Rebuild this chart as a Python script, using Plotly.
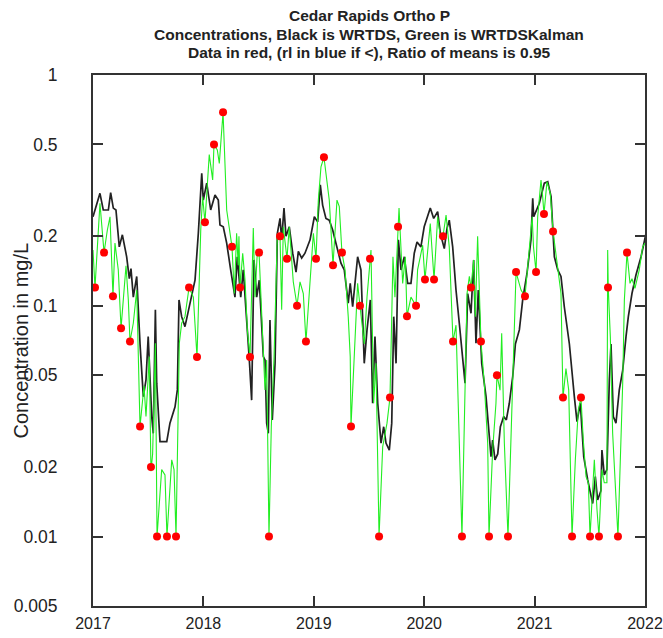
import plotly.graph_objects as go

# ---- WRTDS (black) daily concentration ----
wrtds_year = [2017.00, 2017.063, 2017.093, 2017.139, 2017.16, 2017.184, 2017.208, 2017.238, 2017.266, 2017.29,
              2017.305, 2017.329, 2017.344, 2017.365, 2017.396, 2017.426, 2017.456, 2017.48, 2017.50, 2017.532,
              2017.546, 2017.565, 2017.577, 2017.607, 2017.668, 2017.697, 2017.743, 2017.764, 2017.779, 2017.803,
              2017.833, 2017.879, 2017.924, 2017.954, 2017.985, 2017.999, 2018.03, 2018.066, 2018.105, 2018.135,
              2018.15, 2018.18, 2018.211, 2018.247, 2018.286, 2018.307, 2018.338, 2018.361, 2018.392, 2018.416,
              2018.437, 2018.458, 2018.483, 2018.506, 2018.543, 2018.558, 2018.573, 2018.588, 2018.603, 2018.624,
              2018.649, 2018.67, 2018.694, 2018.709, 2018.73, 2018.748, 2018.778, 2018.809, 2018.839, 2018.86,
              2018.89, 2018.92, 2018.966, 2019.005, 2019.035, 2019.059, 2019.08, 2019.11, 2019.14, 2019.171,
              2019.20, 2019.246, 2019.276, 2019.312, 2019.33, 2019.352, 2019.373, 2019.397, 2019.427, 2019.457,
              2019.482, 2019.512, 2019.533, 2019.554, 2019.579, 2019.609, 2019.633, 2019.654, 2019.684, 2019.706,
              2019.724, 2019.745, 2019.766, 2019.79, 2019.82, 2019.85, 2019.88, 2019.91, 2019.935, 2019.97,
              2020.0, 2020.055, 2020.086, 2020.122, 2020.146, 2020.182, 2020.207, 2020.227, 2020.258, 2020.288,
              2020.318, 2020.349, 2020.37, 2020.394, 2020.424, 2020.448, 2020.469, 2020.49, 2020.521, 2020.56,
              2020.59, 2020.605, 2020.62, 2020.641, 2020.666, 2020.69, 2020.72, 2020.744, 2020.771, 2020.802,
              2020.826, 2020.862, 2020.892, 2020.931, 2020.967, 2020.983, 2020.992, 2021.043, 2021.088, 2021.119,
              2021.149, 2021.179, 2021.21, 2021.239, 2021.269, 2021.315, 2021.36, 2021.384, 2021.414, 2021.445,
              2021.481, 2021.526, 2021.55, 2021.571, 2021.601, 2021.61, 2021.631, 2021.655, 2021.677, 2021.692,
              2021.713, 2021.737, 2021.767, 2021.798, 2021.828, 2021.849, 2021.882, 2021.918, 2021.964, 2022.009]
wrtds_conc = [0.243, 0.307, 0.26, 0.26, 0.309, 0.265, 0.26, 0.18, 0.203, 0.1745,
              0.163, 0.131, 0.145, 0.109, 0.134, 0.0683, 0.0404, 0.0477, 0.0735, 0.0331,
              0.028, 0.096, 0.0462, 0.0258, 0.0258, 0.031, 0.0365, 0.0432, 0.106, 0.0897,
              0.0812, 0.1026, 0.129, 0.206, 0.375, 0.287, 0.34, 0.26, 0.302, 0.287,
              0.224, 0.22, 0.187, 0.143, 0.109, 0.163, 0.109, 0.143, 0.0897, 0.0582,
              0.039, 0.158, 0.109, 0.129, 0.0602, 0.0582, 0.031, 0.028, 0.0868, 0.032,
              0.0563, 0.206, 0.239, 0.193, 0.265, 0.2, 0.22, 0.169, 0.14, 0.172,
              0.161, 0.169, 0.193, 0.243, 0.231, 0.334, 0.273, 0.239, 0.235, 0.213,
              0.187, 0.153, 0.143, 0.1026, 0.125, 0.099, 0.125, 0.163, 0.143, 0.0563,
              0.0786, 0.106, 0.0378, 0.0735, 0.0378, 0.0254, 0.0299, 0.0254, 0.0237, 0.031,
              0.0897, 0.0563, 0.193, 0.143, 0.163, 0.125, 0.125, 0.169, 0.189, 0.18,
              0.22, 0.265, 0.239, 0.256, 0.206, 0.177, 0.217, 0.235, 0.18, 0.117,
              0.084, 0.0602, 0.0462, 0.113, 0.0928, 0.158, 0.0688, 0.117, 0.0563, 0.0404,
              0.0271, 0.0222, 0.0262, 0.0215, 0.0228, 0.0299, 0.0331, 0.032, 0.0378, 0.0495,
              0.0683, 0.0786, 0.106, 0.138, 0.193, 0.292, 0.243, 0.278, 0.34, 0.345,
              0.297, 0.163, 0.143, 0.134, 0.099, 0.0683, 0.0404, 0.0315, 0.0378, 0.0222,
              0.0176, 0.0139, 0.0182, 0.0144, 0.0158, 0.0237, 0.0185, 0.0195, 0.0477, 0.0683,
              0.0331, 0.031, 0.0432, 0.0525, 0.0735, 0.0897, 0.113, 0.136, 0.163, 0.206]

# ---- WRTDSKalman (green) daily concentration ----
kalman_year = [2017.00, 2017.018, 2017.063, 2017.10, 2017.13, 2017.154, 2017.181, 2017.199, 2017.229, 2017.254,
               2017.299, 2017.32, 2017.335, 2017.365, 2017.396, 2017.426, 2017.462, 2017.48, 2017.51, 2017.525,
               2017.54, 2017.565, 2017.58, 2017.622, 2017.652, 2017.67, 2017.713, 2017.734, 2017.752, 2017.782,
               2017.803, 2017.833, 2017.87, 2017.909, 2017.942, 2017.976, 2017.993, 2018.014, 2018.053, 2018.084,
               2018.096, 2018.126, 2018.144, 2018.178, 2018.211, 2018.259, 2018.28, 2018.301, 2018.315, 2018.322,
               2018.332, 2018.356, 2018.377, 2018.398, 2018.422, 2018.452, 2018.467, 2018.488, 2018.504, 2018.543,
               2018.558, 2018.573, 2018.594, 2018.615, 2018.64, 2018.67, 2018.694, 2018.709, 2018.724, 2018.757,
               2018.778, 2018.814, 2018.848, 2018.875, 2018.905, 2018.929, 2018.966, 2018.996, 2019.02, 2019.041,
               2019.065, 2019.092, 2019.14, 2019.174, 2019.21, 2019.231, 2019.255, 2019.283, 2019.312, 2019.33,
               2019.337, 2019.373, 2019.397, 2019.418, 2019.457, 2019.482, 2019.509, 2019.518, 2019.542, 2019.563,
               2019.591, 2019.624, 2019.663, 2019.69, 2019.706, 2019.717, 2019.735, 2019.763, 2019.772, 2019.805,
               2019.829, 2019.844, 2019.88, 2019.926, 2019.94, 2019.986, 2020.007, 2020.055, 2020.089, 2020.122,
               2020.146, 2020.17, 2020.198, 2020.227, 2020.261, 2020.288, 2020.342, 2020.388, 2020.409, 2020.424,
               2020.448, 2020.463, 2020.484, 2020.514, 2020.544, 2020.575, 2020.587, 2020.62, 2020.65, 2020.659,
               2020.687, 2020.702, 2020.726, 2020.759, 2020.802, 2020.816, 2020.832, 2020.877, 2020.913, 2020.943,
               2020.978, 2020.99, 2021.013, 2021.028, 2021.058, 2021.073, 2021.085, 2021.112, 2021.142, 2021.167,
               2021.21, 2021.239, 2021.257, 2021.284, 2021.309, 2021.339, 2021.369, 2021.396, 2021.42, 2021.441,
               2021.466, 2021.487, 2021.502, 2021.541, 2021.565, 2021.583, 2021.61, 2021.631, 2021.655, 2021.662,
               2021.667, 2021.686, 2021.707, 2021.755, 2021.798, 2021.813, 2021.837, 2021.864, 2021.882, 2021.909,
               2021.948, 2021.979, 2022.0]
kalman_conc = [0.1745, 0.12, 0.278, 0.17, 0.213, 0.243, 0.11, 0.187, 0.143, 0.08,
               0.149, 0.106, 0.07, 0.084, 0.117, 0.03, 0.045, 0.0331, 0.0602, 0.0192,
               0.0228, 0.0688, 0.01, 0.0195, 0.0185, 0.01, 0.0215, 0.0195, 0.01, 0.0688,
               0.084, 0.0897, 0.12, 0.109, 0.06, 0.213, 0.297, 0.23, 0.452, 0.351,
               0.5, 0.473, 0.414, 0.69, 0.26, 0.18, 0.113, 0.206, 0.15, 0.2,
               0.12, 0.169, 0.129, 0.0786, 0.06, 0.217, 0.109, 0.169, 0.17, 0.0622,
               0.0432, 0.0582, 0.01, 0.03, 0.06, 0.206, 0.2, 0.096, 0.22, 0.16,
               0.22, 0.127, 0.10, 0.127, 0.113, 0.07, 0.134, 0.206, 0.16, 0.287,
               0.40, 0.44, 0.287, 0.15, 0.287, 0.269, 0.17, 0.143, 0.0897, 0.0602,
               0.03, 0.0786, 0.125, 0.10, 0.0683, 0.109, 0.16, 0.1745, 0.0378, 0.0563,
               0.01, 0.0245, 0.031, 0.04, 0.0897, 0.163, 0.109, 0.22, 0.265, 0.125,
               0.163, 0.09, 0.109, 0.10, 0.143, 0.183, 0.13, 0.227, 0.13, 0.243,
               0.2, 0.2, 0.247, 0.18, 0.07, 0.0824, 0.01, 0.113, 0.134, 0.12,
               0.158, 0.0897, 0.2, 0.07, 0.0462, 0.0254, 0.01, 0.0237, 0.0378, 0.05,
               0.0431, 0.076, 0.0254, 0.01, 0.0462, 0.096, 0.14, 0.117, 0.11, 0.158,
               0.243, 0.18, 0.14, 0.243, 0.351, 0.297, 0.25, 0.345, 0.307, 0.21,
               0.148, 0.113, 0.04, 0.0535, 0.0431, 0.01, 0.0215, 0.0354, 0.04, 0.0262,
               0.0182, 0.0171, 0.01, 0.0215, 0.0131, 0.01, 0.0195, 0.0171, 0.0171, 0.1745,
               0.12, 0.0735, 0.028, 0.01, 0.0462, 0.106, 0.17, 0.125, 0.131, 0.119,
               0.143, 0.18, 0.187]

# ---- Sample data (red) ----
sample_year = [2017.018, 2017.10, 2017.181, 2017.254, 2017.335, 2017.426, 2017.525, 2017.58, 2017.67, 2017.752,
               2017.87, 2017.942, 2018.014, 2018.096, 2018.178, 2018.259, 2018.332, 2018.422, 2018.504, 2018.594,
               2018.694, 2018.757, 2018.848, 2018.929, 2019.02, 2019.092, 2019.174, 2019.255, 2019.337, 2019.418,
               2019.509, 2019.591, 2019.69, 2019.763, 2019.844, 2019.926, 2020.007, 2020.089, 2020.17, 2020.261,
               2020.342, 2020.424, 2020.514, 2020.587, 2020.659, 2020.759, 2020.832, 2020.913, 2021.013, 2021.085,
               2021.167, 2021.257, 2021.339, 2021.42, 2021.502, 2021.583, 2021.665, 2021.755, 2021.837]
sample_conc = [0.12, 0.17, 0.11, 0.08, 0.07, 0.03, 0.02, 0.01, 0.01, 0.01,
               0.12, 0.06, 0.23, 0.5, 0.69, 0.18, 0.12, 0.06, 0.17, 0.01,
               0.2, 0.16, 0.1, 0.07, 0.16, 0.44, 0.15, 0.17, 0.03, 0.1,
               0.16, 0.01, 0.04, 0.22, 0.09, 0.1, 0.13, 0.13, 0.2, 0.07,
               0.01, 0.12, 0.07, 0.01, 0.05, 0.01, 0.14, 0.11, 0.14, 0.25,
               0.21, 0.04, 0.01, 0.04, 0.01, 0.01, 0.12, 0.01, 0.17]

y_tick_vals = [0.005, 0.01, 0.02, 0.05, 0.1, 0.2, 0.5, 1]
y_tick_text = ["0.005", "0.01", "0.02", "0.05", "0.1", "0.2", "0.5", "1"]
x_tick_vals = [2017, 2018, 2019, 2020, 2021, 2022]
x_tick_text = ["2017", "2018", "2019", "2020", "2021", "2022"]

title_lines = ["Cedar Rapids Ortho P",
               "Concentrations, Black is WRTDS, Green is WRTDSKalman",
               "Data in red, (rl in blue if <), Ratio of means is 0.95"]

FONT = "Liberation Sans, Arial, sans-serif"

fig = go.Figure()
fig.add_trace(go.Scatter(x=wrtds_year, y=wrtds_conc, mode="lines",
                         line=dict(color="#222222", width=1.7), showlegend=False))
fig.add_trace(go.Scatter(x=kalman_year, y=kalman_conc, mode="lines",
                         line=dict(color="#22ee22", width=1.1), showlegend=False))
fig.add_trace(go.Scatter(x=sample_year, y=sample_conc, mode="markers",
                         marker=dict(color="#ff0000", size=8, line=dict(width=0)), showlegend=False))

# plot area spans 552 x 531 px
annotations = []
for i, t in enumerate(title_lines):
    annotations.append(dict(text="<b>%s</b>" % t, x=0.5, xref="paper",
                            y=(606 - (16 + 18 * i)) / 531.0, yref="paper",
                            xanchor="center", yanchor="middle", showarrow=False,
                            font=dict(family=FONT, size=15.5, color="#222222")))
annotations.append(dict(text="Concentration in mg/L", x=(20 - 93) / 552.0, xref="paper",
                        y=0.5, yref="paper", textangle=-90, showarrow=False,
                        xanchor="center", yanchor="middle",
                        font=dict(family=FONT, size=20, color="#222222")))

fig.update_layout(
    width=663, height=638,
    margin=dict(l=93, r=18, t=75, b=32),
    paper_bgcolor="white", plot_bgcolor="white",
    font=dict(family=FONT, size=17, color="#222222"),
    annotations=annotations,
    xaxis=dict(range=[2017, 2022], tickvals=x_tick_vals, ticktext=x_tick_text, automargin=False,
               showgrid=False, zeroline=False, showline=True, linecolor="#333333", linewidth=2,
               mirror="ticks", ticks="inside", ticklen=10, tickwidth=2, tickcolor="#333333",
               ticklabelstandoff=2, ticklabeloverflow="allow", tickfont=dict(size=16)),
    yaxis=dict(type="log", range=[-2.30103, 0], tickvals=y_tick_vals, ticktext=y_tick_text, automargin=False,
               showgrid=False, zeroline=False, showline=True, linecolor="#333333", linewidth=2,
               mirror="ticks", ticks="inside", ticklen=10, tickwidth=2, tickcolor="#333333",
               ticklabelstandoff=30, tickfont=dict(size=17.5)),
)

# remove the default page margin so the figure fills the window exactly
fig.write_html("out.html", config={"displayModeBar": False},
               post_script="document.body.style.margin='0';document.body.style.overflow='hidden';")
